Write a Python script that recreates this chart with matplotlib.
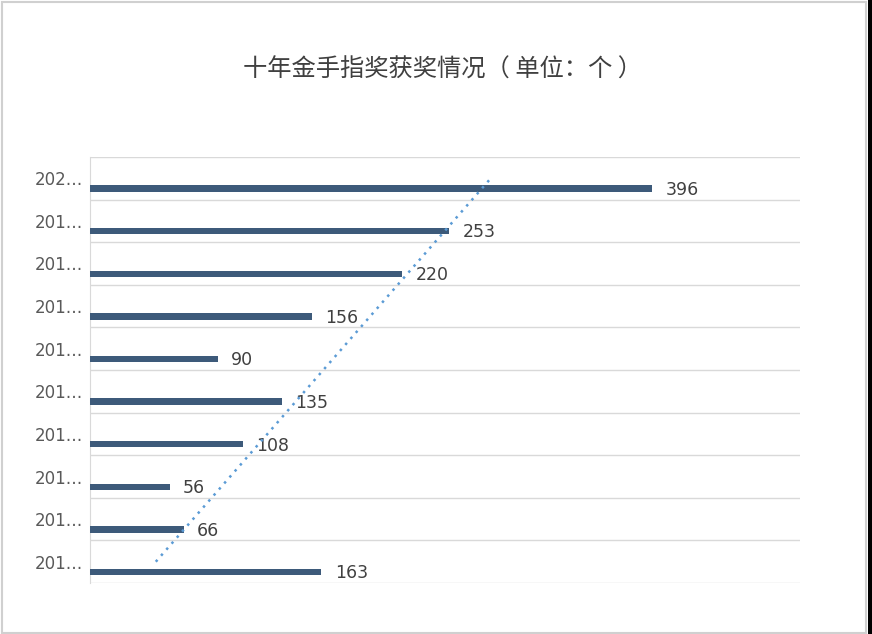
import matplotlib.pyplot as plt
import numpy as np
from matplotlib.patches import Rectangle

plt.rcParams['font.family'] = ['Noto Sans CJK SC', 'DejaVu Sans']

# 从下到上
etiquetas = ['201…', '201…', '201…', '201…', '201…', '201…', '201…', '201…', '201…', '202…']
premios = [163, 66, 56, 108, 135, 90, 156, 220, 253, 396]

fig = plt.figure(figsize=(8.72, 6.34), dpi=100)
fig.patch.set_facecolor('white')

# marco
fig.patches.append(Rectangle((0.002, 0.002), 0.991, 0.995, transform=fig.transFigure,
                             fill=False, edgecolor='#d0d0d0', linewidth=1.5))
fig.patches.append(Rectangle((0.9955, 0), 0.0045, 1, transform=fig.transFigure,
                             facecolor='black', edgecolor='none'))

ax = fig.add_axes([0.1032, 0.0804, 0.8142, 0.672])
pos = np.arange(len(premios))
ax.barh(pos - 0.24, premios, height=0.15, color='#3d5a7a', zorder=3)

for p, v in zip(pos, premios):
    ax.annotate(str(v), (v, p - 0.24), xytext=(9.5, -1), textcoords='offset points',
                va='center', ha='left', fontsize=12.5, color='#404040',
                family='DejaVu Sans')

# línea de tendencia lineal
m, b = np.polyfit(pos, premios, 1)
ax.plot(m * pos + b, pos, linestyle=(0, (1, 2.2)), color='#5b9bd5', linewidth=1.8, zorder=4)

ax.set_xlim(0, 500)
ax.set_ylim(-0.5, 9.5)
ax.set_yticks(pos)
ax.set_yticklabels(etiquetas, fontsize=12, color='#595959', family='DejaVu Sans')
ax.set_xticks([])
ax.tick_params(axis='y', length=0, pad=5)
for y in np.arange(-0.5, 10, 1):
    ax.axhline(y, color='#d9d9d9', linewidth=1, zorder=1)
for s in ['top', 'right', 'bottom']:
    ax.spines[s].set_visible(False)
ax.spines['left'].set_color('#d9d9d9')

fig.text(0.507, 1 - 70 / 634, '十年金手指奖获奖情况（ 单位：个 ）', ha='center', va='center',
         fontsize=17.5, color='#404040')

plt.savefig('out.png', dpi=100)
